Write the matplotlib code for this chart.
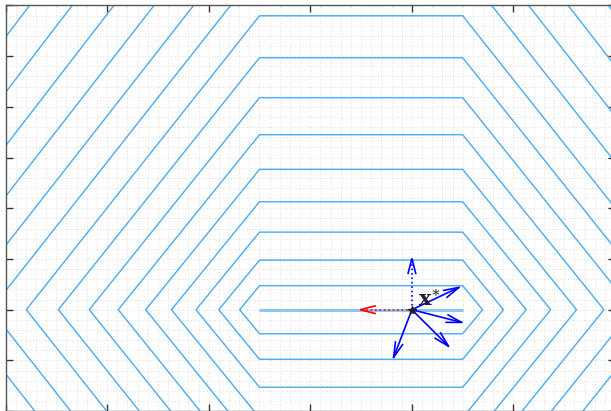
import numpy as np
import matplotlib
matplotlib.use("Agg")
import matplotlib.pyplot as plt
from matplotlib.ticker import MultipleLocator

# Level values of the contour lines (innermost first)
levels = [0.237, 0.489, 0.765, 1.065, 1.384, 1.726, 2.091, 2.485, 2.899,
          3.363, 3.831, 4.339, 4.862, 5.414, 5.986]

# Minimiser set: horizontal segment y = -1, x in [-0.5, 1.5]
seg_x = [-0.5, 1.5]
seg_y = [-1.0, -1.0]

# Point x* and the directions drawn from it
xstar = (1.0, -1.0)
red_vec = (-0.51, 0.0)
blue_u = [0.0, 0.463, 0.49, 0.36, -0.18]
blue_v = [0.506, 0.22, -0.125, -0.36, -0.47]
blue_ls = [":", "-", "-", "-", "-"]

# Function: weighted distance to the segment, slope steepening slowly with level
s0, s1 = 1.21, 0.01825
xc, half_len, yc = 0.5, 1.0, -1.0

x = np.linspace(-3, 3, 1201)
y = np.linspace(-2, 2, 801)
X, Y = np.meshgrid(x, y)
T = np.maximum(np.abs(X - xc) - half_len, 0.0)
V = np.abs(Y - yc)
F = (V + s0 * T) / (1.0 - s1 * T)

W, H = 611, 411
fig = plt.figure(figsize=(W / 100, H / 100), dpi=100)
ax_w = 6 * 101.6
ax_h = 4 * 101.4
ax = fig.add_axes([5.5 / W, (H - 5.5 - ax_h) / H, ax_w / W, ax_h / H])
ax.set_xlim(-3, 3)
ax.set_ylim(-2, 2)

line_col = "#50aef2"
ax.contour(X, Y, F, levels=levels, colors=line_col, linewidths=1.05)
ax.plot(seg_x, seg_y, color="#86c2f0", lw=2.0, solid_capstyle="butt", zorder=3)

# Grid and ticks
ax.xaxis.set_major_locator(MultipleLocator(1.0))
ax.yaxis.set_major_locator(MultipleLocator(0.5))
ax.xaxis.set_minor_locator(MultipleLocator(0.1))
ax.yaxis.set_minor_locator(MultipleLocator(0.1))
ax.grid(which="both", linestyle=(0, (1, 2.5)), color="#cfcfcf", lw=0.55)
ax.set_axisbelow(True)
ax.tick_params(which="major", direction="in", length=4.8, width=1.0,
               color="#333333", top=True, right=True,
               labelbottom=False, labelleft=False)
ax.tick_params(which="minor", length=0)
for sp in ax.spines.values():
    sp.set_color("#555555")
    sp.set_linewidth(1.0)

# Arrows with open heads
px_per_unit = 101.5
head_len = 15 / px_per_unit
head_half = 3.8 / px_per_unit


def arrow(u, v, color, ls, lw=1.2):
    x0, y0 = xstar
    x1, y1 = x0 + u, y0 + v
    ax.plot([x0, x1], [y0, y1], color=color, ls=ls, lw=lw, zorder=5)
    n = np.hypot(u, v)
    du, dv = u / n, v / n
    bx, by = x1 - head_len * du, y1 - head_len * dv
    px, py = -dv, du
    ax.plot([bx + head_half * px, x1, bx - head_half * px],
            [by + head_half * py, y1, by - head_half * py],
            color=color, lw=lw, zorder=5, solid_joinstyle="miter")


arrow(red_vec[0], red_vec[1], "red", ":")
for u, v, ls in zip(blue_u, blue_v, blue_ls):
    arrow(u, v, "blue", ls)

ax.plot([xstar[0]], [xstar[1]], marker="*", ms=6, color="#222222",
        mec="#222222", zorder=6)
ax.text(xstar[0] + 0.17, xstar[1] + 0.1, r"$\mathbf{x}^{\ast}$",
        fontsize=15, color="#222222", ha="center", va="center", zorder=7,
        math_fontfamily="dejavuserif")

fig.savefig("out.png", dpi=100)
